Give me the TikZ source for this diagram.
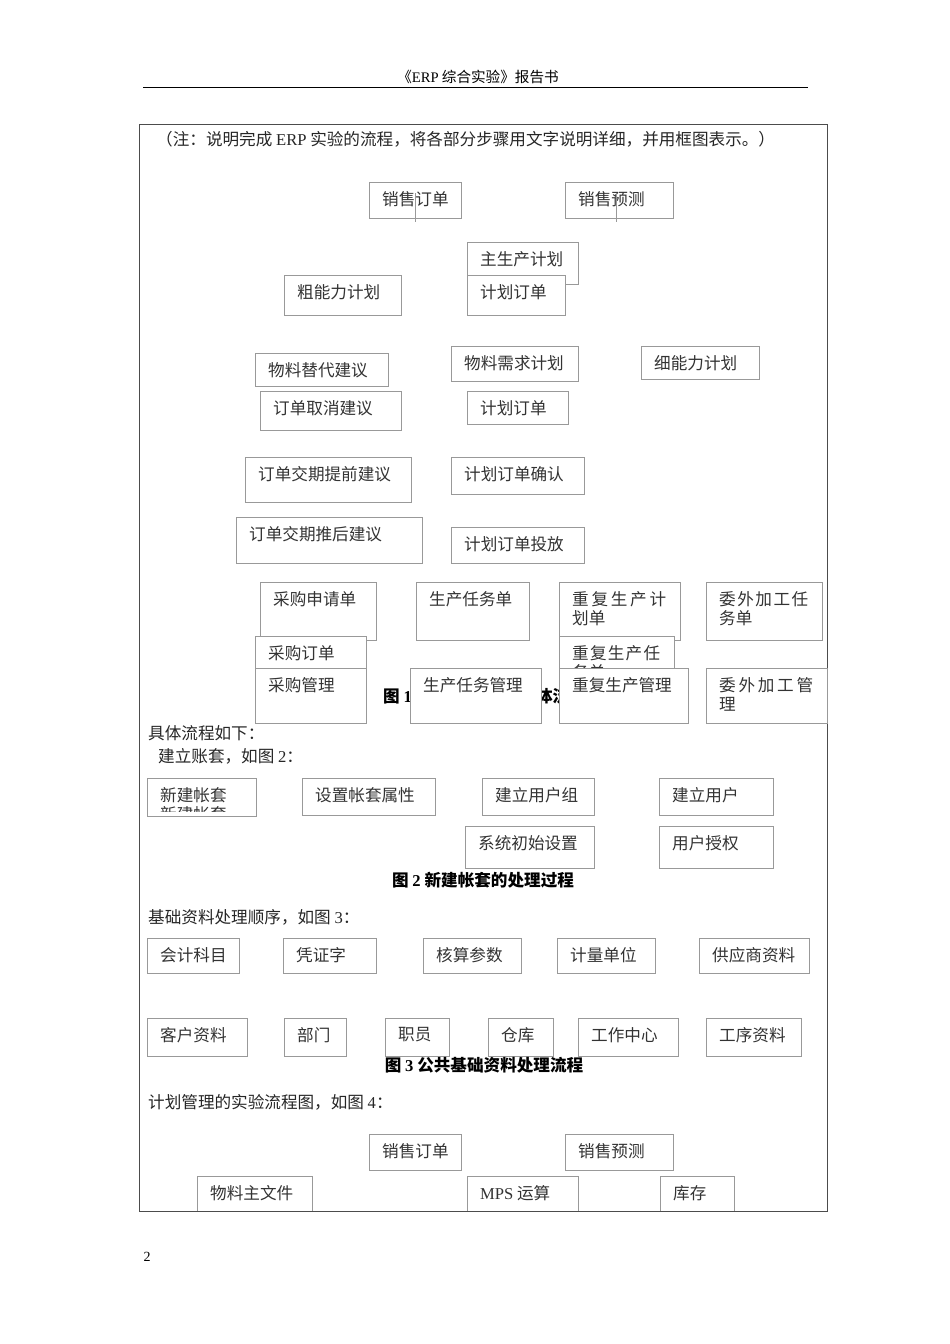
\documentclass[tikz,border=0pt]{standalone}
\usepackage{fontspec}
\setmainfont{Liberation Serif}
\newfontfamily\cjk{Noto Sans CJK SC}
\usepackage{tikz}
\XeTeXlinebreaklocale "zh"
\XeTeXlinebreakskip=0pt plus 1pt
\newcommand{\lat}[1]{{\rmfamily #1}}

\tikzset{
  box/.style={draw=black!40, fill=white, line width=0.7pt, inner sep=0pt, anchor=north west},
  boxtext/.style={anchor=north west, inner sep=0pt, xshift=13pt, yshift=-9pt,
    text=black!80, font=\cjk\fontsize{16.6}{19}\selectfont},
  plain/.style={anchor=west, inner sep=0pt, text=black!85, font=\cjk\fontsize{16.6}{19}\selectfont},
  caption/.style={inner sep=0pt, font=\cjk\bfseries\fontsize{16.6}{19}\selectfont},
  stub/.style={draw=black!40, line width=0.5pt}
}
% box: name, x, y, width, height, text
\newcommand{\flowbox}[7][]{%
  \node[box, minimum width=#5pt, minimum height=#6pt] (#2) at (#3,#4) {};
  \node[boxtext, #1] (#2-t) at (#2.north west) {#7};}

\begin{document}
\begin{tikzpicture}[x=1pt, y=-1pt]
  \useasboundingbox[fill=white] (0,0) rectangle (950,1344);
  % page head
  \node[inner sep=0pt, font=\cjk\fontsize{14.6}{17}\selectfont] (head) at (478,77) {《\lat{ERP} 综合实验》报告书};
  \draw[line width=1.3pt] (143,87.5) -- (808,87.5);
  \draw[draw=black!70, line width=0.9pt] (139,124.5) rectangle (827,1211.5);
  \node[plain] (note) at (156,139) {（注：说明完成 \lat{ERP} 实验的流程，将各部分步骤用文字说明详细，并用框图表示。）};

  % figure 1
  \flowbox{so1}{369}{182}{92}{36}{销售订单}
  \flowbox{sf1}{565}{182}{108}{36}{销售预测}
  \draw[stub] ([yshift=7pt]so1.center) -- ([yshift=-3pt]so1.south);
  \draw[stub] ([xshift=-3pt,yshift=7pt]sf1.center) -- ([xshift=-3pt,yshift=-3pt]sf1.south);
  \flowbox{mps}{467}{242}{111}{42}{主生产计划}
  \flowbox{po1}{467}{275}{98}{40}{计划订单}
  \flowbox{rcp}{284}{275}{117}{40}{粗能力计划}
  \flowbox{sub}{255}{353}{133}{33}{物料替代建议}
  \flowbox{cnl}{260}{391}{141}{39}{订单取消建议}
  \flowbox{mrp}{451}{346}{127}{35}{物料需求计划}
  \flowbox{crp}{641}{346}{118}{33}{细能力计划}
  \flowbox{po2}{467}{391}{101}{33}{计划订单}
  \flowbox{adv}{245}{457}{166}{45}{订单交期提前建议}
  \flowbox{cfm}{451}{457}{133}{37}{计划订单确认}
  \flowbox{dly}{236}{517}{186}{46}{订单交期推后建议}
  \flowbox{rel}{451}{527}{133}{36}{计划订单投放}
  \flowbox{req}{260}{582}{116}{58}{采购申请单}
  \flowbox{wo}{416}{582}{113}{58}{生产任务单}
  \flowbox[text width=94pt, align=justify]{rpp}{559}{582}{121}{58}{重复生产计划单}
  \flowbox[text width=89pt, align=justify]{osp}{706}{582}{116}{58}{委外加工任务单}
  \flowbox{pur}{255}{636}{111}{54}{采购订单}
  \flowbox[text width=88pt, align=justify]{rpt}{559}{636}{115}{54}{重复生产任务单}
  \node[caption, anchor=west] (cap1) at (383,696) {图 \lat{1 ERP} 综合实验总体流程};
  \flowbox{pm}{255}{668}{111}{55}{采购管理}
  \flowbox{wm}{410}{668}{131}{55}{生产任务管理}
  \flowbox{rm}{559}{668}{129}{55}{重复生产管理}
  \flowbox[text width=94pt, align=justify]{om}{706}{668}{121}{55}{委外加工管理}

  % figure 2
  \node[plain] (flow) at (148,733) {具体流程如下：};
  \node[plain] (acc) at (158,756) {建立账套，如图 \lat{2}：};
  \node[box, minimum width=109pt, minimum height=38pt] (new) at (147,778) {};
  \begin{scope}
    \clip (147,778) rectangle (256,811);
    \node[boxtext, align=left] (new-t) at (new.north west) {新建帐套\\新建帐套};
  \end{scope}
  \flowbox{attr}{302}{778}{133}{37}{设置帐套属性}
  \flowbox{grp}{482}{778}{112}{37}{建立用户组}
  \flowbox{usr}{659}{778}{114}{37}{建立用户}
  \flowbox{init}{465}{826}{129}{42}{系统初始设置}
  \flowbox{auth}{659}{826}{114}{42}{用户授权}
  \node[caption] (cap2) at (483,880) {图 \lat{2} 新建帐套的处理过程};

  % figure 3
  \node[plain] (base) at (148,917) {基础资料处理顺序，如图 \lat{3}：};
  \flowbox{acct}{147}{938}{92}{35}{会计科目}
  \flowbox{vch}{283}{938}{93}{35}{凭证字}
  \flowbox{para}{423}{938}{98}{35}{核算参数}
  \flowbox{unit}{557}{938}{98}{35}{计量单位}
  \flowbox{supp}{699}{938}{110}{35}{供应商资料}
  \flowbox{cust}{147}{1018}{100}{38}{客户资料}
  \flowbox{dept}{284}{1018}{62}{38}{部门}
  \flowbox{emp}{385}{1018}{64}{38}{职员}
  \flowbox{wh}{488}{1018}{65}{38}{仓库}
  \flowbox{wc}{578}{1018}{100}{38}{工作中心}
  \flowbox{rte}{706}{1018}{95}{38}{工序资料}
  \node[caption] (cap3) at (484,1065) {图 \lat{3} 公共基础资料处理流程};

  % figure 4
  \node[plain] (plan) at (148,1102) {计划管理的实验流程图，如图 \lat{4}：};
  \begin{scope}
    \clip (139,1110) rectangle (827,1211);
    \flowbox{so2}{369}{1134}{92}{36}{销售订单}
    \flowbox{sf2}{565}{1134}{108}{36}{销售预测}
    \flowbox{mat}{197}{1176}{115}{45}{物料主文件}
    \flowbox{mpsr}{467}{1176}{111}{45}{\lat{MPS} 运算}
    \flowbox{inv}{660}{1176}{74}{45}{库存}
  \end{scope}
  \draw[draw=black!70, line width=0.9pt] (139,1211.5) -- (827,1211.5);

  \node[inner sep=0pt, font=\fontsize{14}{17}\selectfont] (page) at (147,1257) {2};
\end{tikzpicture}
\end{document}
